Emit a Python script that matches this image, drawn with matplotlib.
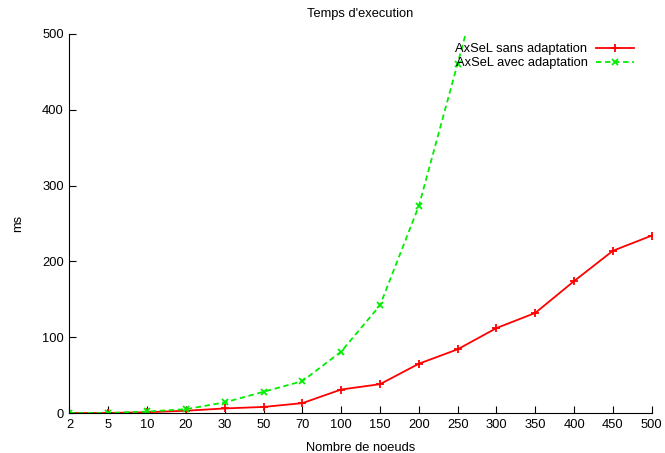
import matplotlib
matplotlib.use("Agg")
import matplotlib.pyplot as plt

plt.rcParams['font.family'] = ['Liberation Sans', 'DejaVu Sans']

noeuds = ['2', '5', '10', '20', '30', '50', '70', '100', '150', '200',
          '250', '300', '350', '400', '450', '500']
sans_adapt = [0, 0, 1, 3, 6, 8, 13, 31, 38, 65, 84, 112, 132, 174, 214, 234]
avec_adapt = [0, 0, 2, 5, 14, 28, 42, 81, 142, 273, 461, 650]

fig = plt.figure(figsize=(6.65, 4.53), dpi=100)
ax = fig.add_axes([0.1045, 0.0883, 0.8755, 0.8367])

fs = 9.3
x = list(range(len(noeuds)))
ax.plot(x, sans_adapt, color='#ff0000', lw=1.3, marker='+', ms=6, mew=1.3,
        label='AxSeL sans adaptation')
ax.plot(x[:len(avec_adapt)], avec_adapt, color='#00ee00', lw=1.3, ls=(0, (3, 2)),
        marker='x', ms=5, mew=1.3, label='AxSeL avec adaptation')

ax.set_xlim(0, len(noeuds) - 1)
ax.set_ylim(0, 500)
ax.set_xticks(x)
ax.set_xticklabels(noeuds)
ax.set_yticks([0, 100, 200, 300, 400, 500])
ax.tick_params(direction='in', length=5, labelsize=fs, pad=4)
ax.spines['top'].set_visible(False)
ax.spines['right'].set_visible(False)

ax.set_title("Temps d'execution", fontsize=fs, pad=12)
ax.set_xlabel('Nombre de noeuds', fontsize=fs, labelpad=8)
ax.set_ylabel('ms', fontsize=fs, labelpad=13)

leg = ax.legend(loc='upper right', frameon=False, fontsize=fs, markerfirst=False,
                handlelength=2.9, borderaxespad=0.3, labelspacing=0.15,
                handletextpad=0.7, bbox_to_anchor=(0.985, 1.0))
for t in leg.get_texts():
    t.set_ha('right')

fig.savefig('out.png', dpi=100)
